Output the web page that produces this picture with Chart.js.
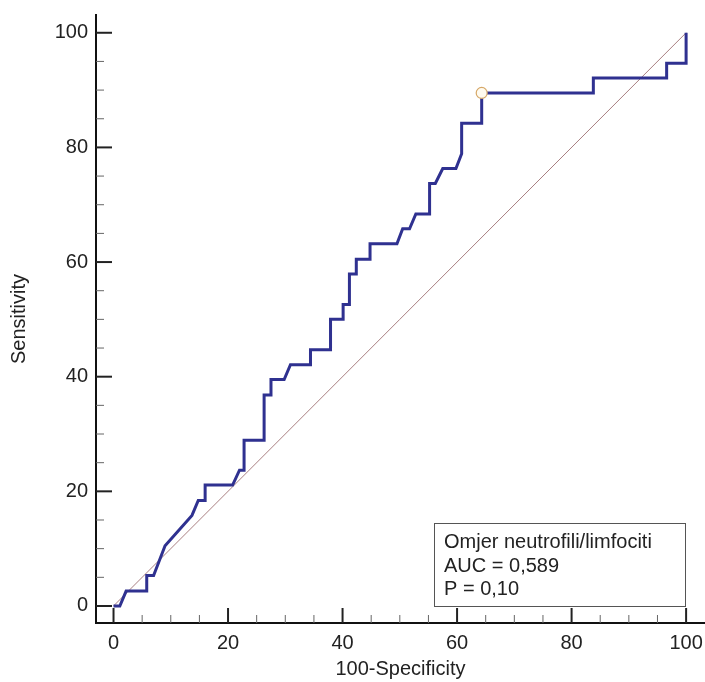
<!DOCTYPE html>
<html>
<head>
<meta charset="utf-8">
<script src="https://cdn.jsdelivr.net/npm/chart.js@4.4.1/dist/chart.umd.min.js"></script>
<style>
  html, body { margin: 0; padding: 0; background: #ffffff; }
  #wrap { width: 705px; height: 682px; position: relative; }
</style>
</head>
<body>
<div id="wrap"><canvas id="c" width="705" height="682"></canvas></div>
<script>
// ROC curve: 100-Specificity (x) and Sensitivity (y)
const specificityX = [0, 1.1, 2.2, 5.8, 5.8, 7.0, 9.0, 13.7, 14.8, 16.0, 16.0, 20.8, 22.0, 22.8, 22.8, 26.3, 26.3, 27.5, 27.5, 29.8, 30.9, 34.4, 34.4, 37.9, 37.9, 40.1, 40.1, 41.2, 41.2, 42.4, 42.4, 44.8, 44.8, 49.5, 50.5, 51.7, 52.8, 55.2, 55.2, 56.2, 57.5, 59.8, 60.8, 60.8, 64.3, 64.3, 83.8, 83.8, 96.6, 96.6, 100, 100];
const sensitivityY = [0, 0, 2.6, 2.6, 5.3, 5.3, 10.5, 15.8, 18.4, 18.4, 21.1, 21.1, 23.7, 23.7, 28.9, 28.9, 36.8, 36.8, 39.5, 39.5, 42.1, 42.1, 44.7, 44.7, 50.0, 50.0, 52.6, 52.6, 57.9, 57.9, 60.5, 60.5, 63.2, 63.2, 65.8, 65.8, 68.4, 68.4, 73.7, 73.7, 76.3, 76.3, 78.9, 84.2, 84.2, 89.5, 89.5, 92.1, 92.1, 94.7, 94.7, 100];
// Reference diagonal
const diagonalX = [0, 100];
const diagonalY = [0, 100];
// Optimal criterion point
const criterionX = [64.3];
const criterionY = [89.5];
// Ticks
const majorTicks = [0, 20, 40, 60, 80, 100];
const minorTicks = [5, 10, 15, 25, 30, 35, 45, 50, 55, 65, 70, 75, 85, 90, 95];
// Legend text
const legendLines = ["Omjer neutrofili/limfociti", "AUC = 0,589", "P = 0,10"];
const xTitle = "100-Specificity";
const yTitle = "Sensitivity";

const toPts = (xs, ys) => xs.map((x, i) => ({ x: x, y: ys[i] }));
const FONT = "'Liberation Sans', Arial, sans-serif";

const insideTicks = {
  id: 'insideTicks',
  afterDraw(chart) {
    const ctx = chart.ctx;
    const xs = chart.scales.x, ys = chart.scales.y;
    const area = chart.chartArea;
    ctx.save();
    // x-axis ticks (pointing up from bottom axis)
    majorTicks.forEach(v => {
      const p = xs.getPixelForValue(v);
      ctx.strokeStyle = '#222'; ctx.lineWidth = 2;
      ctx.beginPath(); ctx.moveTo(p, area.bottom); ctx.lineTo(p, area.bottom - 15); ctx.stroke();
    });
    minorTicks.forEach(v => {
      const p = xs.getPixelForValue(v);
      ctx.strokeStyle = '#666'; ctx.lineWidth = 1;
      ctx.beginPath(); ctx.moveTo(p, area.bottom); ctx.lineTo(p, area.bottom - 8); ctx.stroke();
    });
    // y-axis ticks (pointing right from left axis)
    majorTicks.forEach(v => {
      const p = ys.getPixelForValue(v);
      ctx.strokeStyle = '#222'; ctx.lineWidth = 2;
      ctx.beginPath(); ctx.moveTo(area.left, p); ctx.lineTo(area.left + 16, p); ctx.stroke();
    });
    minorTicks.forEach(v => {
      const p = ys.getPixelForValue(v);
      ctx.strokeStyle = '#666'; ctx.lineWidth = 1;
      ctx.beginPath(); ctx.moveTo(area.left, p); ctx.lineTo(area.left + 8, p); ctx.stroke();
    });
    // legend box
    const bx = 434.5, by = 523.5, bw = 251, bh = 83;
    ctx.fillStyle = '#ffffff';
    ctx.fillRect(bx, by, bw, bh);
    ctx.strokeStyle = '#555'; ctx.lineWidth = 1;
    ctx.strokeRect(bx, by, bw, bh);
    ctx.fillStyle = '#222';
    ctx.font = '20px ' + FONT;
    ctx.textBaseline = 'alphabetic';
    ctx.textAlign = 'left';
    legendLines.forEach((t, i) => ctx.fillText(t, 444, 548 + i * 23.5));
    ctx.restore();
  }
};

new Chart(document.getElementById('c'), {
  type: 'scatter',
  data: {
    datasets: [
      {
        data: toPts(diagonalX, diagonalY),
        showLine: true,
        borderColor: '#a87f80',
        borderWidth: 1,
        pointRadius: 0,
        order: 3
      },
      {
        data: toPts(specificityX, sensitivityY),
        showLine: true,
        borderColor: '#2f3190',
        borderWidth: 3,
        pointRadius: 0,
        tension: 0,
        order: 2
      },
      {
        data: toPts(criterionX, criterionY),
        showLine: false,
        pointRadius: 5.5,
        pointBackgroundColor: '#fffbf0',
        pointBorderColor: '#d6a868',
        pointBorderWidth: 1.2,
        order: 1
      }
    ]
  },
  options: {
    responsive: false,
    animation: false,
    devicePixelRatio: 1,
    layout: { autoPadding: false, padding: { top: 15, right: 0, left: 0, bottom: 0 } },
    plugins: { legend: { display: false }, tooltip: { enabled: false } },
    scales: {
      x: {
        type: 'linear',
        min: -3.06, max: 103.3,
        afterBuildTicks: s => { s.ticks = majorTicks.map(v => ({ value: v })); },
        afterFit: s => { s.height = 59; s.paddingLeft = 0; s.paddingRight = 0; },
        grid: { display: false, drawTicks: false },
        border: { display: true, color: '#111', width: 2 },
        ticks: { color: '#222', font: { family: FONT, size: 20 }, padding: 8, autoSkip: false, maxRotation: 0, callback: v => String(v) },
        title: { display: true, text: xTitle, color: '#222', font: { family: FONT, size: 20 }, padding: { top: 0, bottom: 1 } }
      },
      y: {
        type: 'linear',
        min: -2.97, max: 103.1,
        afterBuildTicks: s => { s.ticks = majorTicks.map(v => ({ value: v })); },
        afterFit: s => { s.width = 96; s.paddingTop = 0; s.paddingBottom = 0; },
        grid: { display: false, drawTicks: false },
        border: { display: true, color: '#111', width: 2 },
        ticks: { color: '#222', font: { family: FONT, size: 20 }, padding: 8, autoSkip: false, callback: v => String(v) },
        title: { display: true, text: yTitle, color: '#222', font: { family: FONT, size: 20 }, padding: { top: 7, bottom: 0 } }
      }
    }
  },
  plugins: [insideTicks]
});
</script>
</body>
</html>
